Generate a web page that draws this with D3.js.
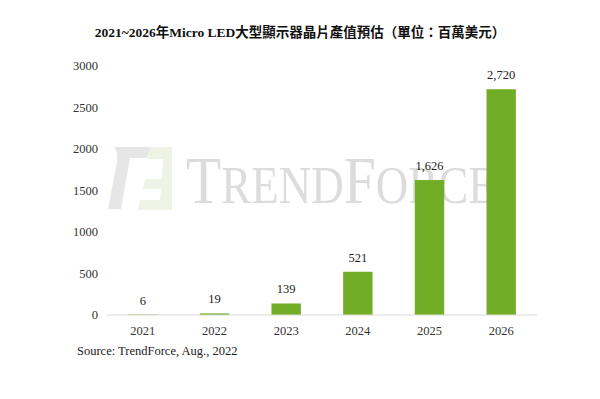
<!DOCTYPE html>
<html>
<head>
<meta charset="utf-8">
<script src="https://cdn.jsdelivr.net/npm/d3@7"></script>
<style>
  body { margin: 0; background: #fff; }
  text { font-family: "Liberation Serif", "Noto Sans CJK TC", serif; }
</style>
</head>
<body>
<div id="chart"></div>
<script>
// chart data
const years = ['2021', '2022', '2023', '2024', '2025', '2026'];
const values = [6, 19, 139, 521, 1626, 2720];
const yTicks = [0, 500, 1000, 1500, 2000, 2500, 3000];

const width = 600, height = 399;

const svg = d3.select('#chart').append('svg')
    .attr('width', width)
    .attr('height', height);

// watermark logo (TrendForce)
const wm = svg.append('g');
wm.append('path')
    .attr('d', 'M114,147 L150,147 L147,158 L130,158 L121,209 L108,209 L117,162 Q118,150 114,147 Z')
    .attr('fill', '#e6e6e6');
wm.append('path')
    .attr('d', 'M150,147 L172,147 L172,210 L138,210 L140,200 L160,200 L161,189 L143,189 L145,179 L162,179 L163,159 L147,159 Z')
    .attr('fill', '#eef3e6');
const wt = wm.append('text')
    .attr('transform', 'translate(186,203) scale(0.9,1.05)')
    .attr('fill', '#dcdcdc');
[['T', 64], ['REND', 50], ['F', 64], ['ORCE', 50]].forEach(function (p) {
    wt.append('tspan').style('font-size', p[1] + 'px').text(p[0]);
});

// scales
const x = d3.scaleBand()
    .domain(years)
    .range([107, 537])
    .paddingInner(0.59)
    .paddingOuter(0.295);

const y = d3.scaleLinear()
    .domain([0, 3000])
    .range([315, 66]);

// y axis labels
svg.append('g')
    .selectAll('text')
    .data(yTicks)
    .enter()
    .append('text')
    .attr('x', 98)
    .attr('y', function (d) { return y(d); })
    .attr('dy', '0.35em')
    .attr('text-anchor', 'end')
    .attr('fill', '#333')
    .style('font-size', '12.5px')
    .text(function (d) { return d; });

// bars
svg.append('g')
    .selectAll('rect')
    .data(values)
    .enter()
    .append('rect')
    .attr('x', function (d, i) { return x(years[i]); })
    .attr('y', function (d) { return y(d); })
    .attr('width', x.bandwidth())
    .attr('height', function (d) { return y(0) - y(d); })
    .attr('fill', '#72ad27');

// baseline
svg.append('line')
    .attr('x1', 107).attr('x2', 537)
    .attr('y1', y(0)).attr('y2', y(0))
    .attr('stroke', '#d9d9d9')
    .attr('stroke-width', 1);

// x labels
svg.append('g')
    .selectAll('text')
    .data(years)
    .enter()
    .append('text')
    .attr('x', function (d) { return x(d) + x.bandwidth() / 2; })
    .attr('y', 335)
    .attr('text-anchor', 'middle')
    .attr('fill', '#333')
    .style('font-size', '12.5px')
    .text(function (d) { return d; });

// value labels
svg.append('g')
    .selectAll('text')
    .data(values)
    .enter()
    .append('text')
    .attr('x', function (d, i) { return x(years[i]) + x.bandwidth() / 2; })
    .attr('y', function (d) { return y(d) - 10; })
    .attr('text-anchor', 'middle')
    .attr('fill', '#222')
    .style('font-size', '12.5px')
    .text(function (d) { return d3.format(',')(d); });

// title
svg.append('text')
    .attr('x', 300)
    .attr('y', 37)
    .attr('text-anchor', 'middle')
    .attr('fill', '#111')
    .style('font-size', '13.5px')
    .style('font-weight', 'bold')
    .text('2021~2026年Micro LED大型顯示器晶片產值預估（單位：百萬美元）');

// source
svg.append('text')
    .attr('x', 77)
    .attr('y', 355)
    .attr('fill', '#222')
    .style('font-size', '12.5px')
    .text('Source: TrendForce, Aug., 2022');
</script>
</body>
</html>
